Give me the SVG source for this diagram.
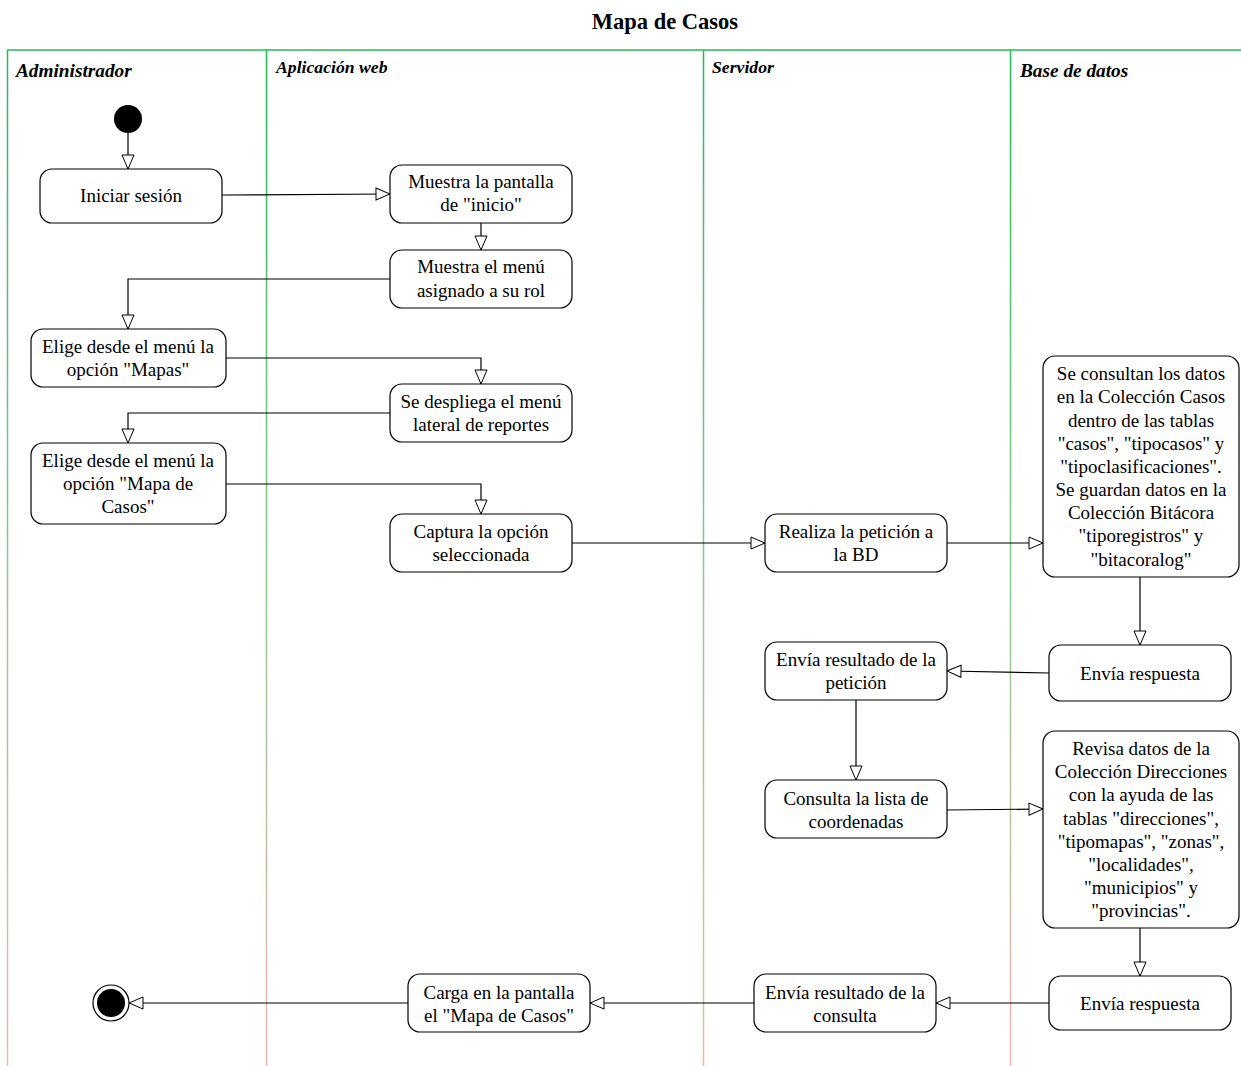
<svg xmlns="http://www.w3.org/2000/svg" width="1241" height="1066" viewBox="0 0 1241 1066">
<defs>
<linearGradient id="lane" gradientUnits="userSpaceOnUse" x1="0" y1="50" x2="0" y2="1066">
<stop offset="0" stop-color="#22bb55"/>
<stop offset="0.5" stop-color="#88c98f"/>
<stop offset="1" stop-color="#f2b5b5"/>
</linearGradient>
<marker id="arr" viewBox="0 0 16 14" refX="15" refY="7" markerWidth="16" markerHeight="14" markerUnits="userSpaceOnUse" orient="auto">
<path d="M1,1 L15,7 L1,13 Z" fill="#fff" stroke="#000" stroke-width="1"/>
</marker>
</defs>
<style>
.t{font-family:"Liberation Serif","Times New Roman",serif;font-size:19px;fill:#000;text-anchor:middle}
.h{font-family:"Liberation Serif","Times New Roman",serif;font-weight:bold;font-style:italic;fill:#000}
.n{fill:#fff;stroke:#000;stroke-width:1.2}
.c{fill:none;stroke:#000;stroke-width:1.2;marker-end:url(#arr)}
.ln{stroke:url(#lane);stroke-width:1.5;fill:none}
</style>
<rect width="1241" height="1066" fill="#fff"/>
<text x="665" y="29" class="h" style="font-style:normal;font-size:22.5px" text-anchor="middle">Mapa de Casos</text>
<g id="lanes">
<line x1="7" y1="50" x2="1241" y2="50" stroke="#22bb55" stroke-width="1.5"/>
<line x1="7.5" y1="50" x2="7.5" y2="1066" class="ln"/>
<line x1="266.5" y1="50" x2="266.5" y2="1066" class="ln"/>
<line x1="703.5" y1="50" x2="703.5" y2="1066" class="ln"/>
<line x1="1010.5" y1="50" x2="1010.5" y2="1066" class="ln"/>
<text x="16" y="77" class="h" font-size="19.3">Administrador</text>
<text x="276" y="73" class="h" font-size="17.7">Aplicación web</text>
<text x="712" y="73" class="h" font-size="17.7">Servidor</text>
<text x="1020" y="77" class="h" font-size="19.3">Base de datos</text>
</g>
<g id="connectors">
<path class="c" d="M128,133 L128,169"/>
<path class="c" d="M222,195 L390,194"/>
<path class="c" d="M481,223 L481,250"/>
<path class="c" d="M390,279 L128,279 L128,329"/>
<path class="c" d="M226,358 L481,358 L481,384"/>
<path class="c" d="M390,413 L128,413 L128,443"/>
<path class="c" d="M226,484 L481,484 L481,514"/>
<path class="c" d="M572,543 L765,543"/>
<path class="c" d="M947,543 L1043,543"/>
<path class="c" d="M1140,577 L1140,645"/>
<path class="c" d="M1049,673 L947,671"/>
<path class="c" d="M856,700 L856,780"/>
<path class="c" d="M947,810 L1043,809"/>
<path class="c" d="M1140,928 L1140,976"/>
<path class="c" d="M1049,1003 L936,1003"/>
<path class="c" d="M754,1003 L590,1003"/>
<path class="c" d="M408,1003 L129,1003"/>
</g>
<g id="start"><circle cx="128" cy="119" r="14" fill="#000"/></g>
<g id="end"><circle cx="111" cy="1003" r="18" fill="#fff" stroke="#000" stroke-width="1.2"/><circle cx="111" cy="1003" r="14" fill="#000"/></g>
<g id="n1"><rect class="n" x="40" y="169" width="182" height="54" rx="12"/><text class="t" x="131" y="202">Iniciar sesión</text></g>
<g id="n2"><rect class="n" x="390" y="165" width="182" height="58" rx="12"/><text class="t" x="481" y="188">Muestra la pantalla</text><text class="t" x="481" y="211">de "inicio"</text></g>
<g id="n3"><rect class="n" x="390" y="250" width="182" height="58" rx="12"/><text class="t" x="481" y="273">Muestra el menú</text><text class="t" x="481" y="297">asignado a su rol</text></g>
<g id="n4"><rect class="n" x="31" y="329" width="195" height="58" rx="12"/><text class="t" x="128" y="353">Elige desde el menú la</text><text class="t" x="128" y="376">opción "Mapas"</text></g>
<g id="n5"><rect class="n" x="390" y="384" width="182" height="58" rx="12"/><text class="t" x="481" y="408">Se despliega el menú</text><text class="t" x="481" y="431">lateral de reportes</text></g>
<g id="n6"><rect class="n" x="31" y="443" width="195" height="81" rx="12"/><text class="t" x="128" y="467">Elige desde el menú la</text><text class="t" x="128" y="490">opción "Mapa de</text><text class="t" x="128" y="513">Casos"</text></g>
<g id="n7"><rect class="n" x="390" y="514" width="182" height="58" rx="12"/><text class="t" x="481" y="538">Captura la opción</text><text class="t" x="481" y="561">seleccionada</text></g>
<g id="n8"><rect class="n" x="765" y="514" width="182" height="58" rx="12"/><text class="t" x="856" y="538">Realiza la petición a</text><text class="t" x="856" y="561">la BD</text></g>
<g id="n9"><rect class="n" x="1043" y="356" width="196" height="221" rx="12"/>
<text class="t" x="1141" y="380">Se consultan los datos</text>
<text class="t" x="1141" y="403">en la Colección Casos</text>
<text class="t" x="1141" y="427">dentro de las tablas</text>
<text class="t" x="1141" y="450">"casos", "tipocasos" y</text>
<text class="t" x="1141" y="473">"tipoclasificaciones".</text>
<text class="t" x="1141" y="496">Se guardan datos en la</text>
<text class="t" x="1141" y="519">Colección Bitácora</text>
<text class="t" x="1141" y="542">"tiporegistros" y</text>
<text class="t" x="1141" y="566">"bitacoralog"</text></g>
<g id="n10"><rect class="n" x="1049" y="645" width="182" height="56" rx="12"/><text class="t" x="1140" y="680">Envía respuesta</text></g>
<g id="n11"><rect class="n" x="765" y="642" width="182" height="58" rx="12"/><text class="t" x="856" y="666">Envía resultado de la</text><text class="t" x="856" y="689">petición</text></g>
<g id="n12"><rect class="n" x="765" y="780" width="182" height="58" rx="12"/><text class="t" x="856" y="805">Consulta la lista de</text><text class="t" x="856" y="828">coordenadas</text></g>
<g id="n13"><rect class="n" x="1043" y="731" width="196" height="197" rx="12"/>
<text class="t" x="1141" y="755">Revisa datos de la</text>
<text class="t" x="1141" y="778">Colección Direcciones</text>
<text class="t" x="1141" y="801">con la ayuda de las</text>
<text class="t" x="1141" y="825">tablas "direcciones",</text>
<text class="t" x="1141" y="848">"tipomapas", "zonas",</text>
<text class="t" x="1141" y="871">"localidades",</text>
<text class="t" x="1141" y="894">"municipios" y</text>
<text class="t" x="1141" y="917">"provincias".</text></g>
<g id="n14"><rect class="n" x="1049" y="976" width="182" height="54" rx="12"/><text class="t" x="1140" y="1010">Envía respuesta</text></g>
<g id="n15"><rect class="n" x="754" y="974" width="182" height="58" rx="12"/><text class="t" x="845" y="999">Envía resultado de la</text><text class="t" x="845" y="1022">consulta</text></g>
<g id="n16"><rect class="n" x="408" y="974" width="182" height="58" rx="12"/><text class="t" x="499" y="999">Carga en la pantalla</text><text class="t" x="499" y="1022">el "Mapa de Casos"</text></g>
</svg>
